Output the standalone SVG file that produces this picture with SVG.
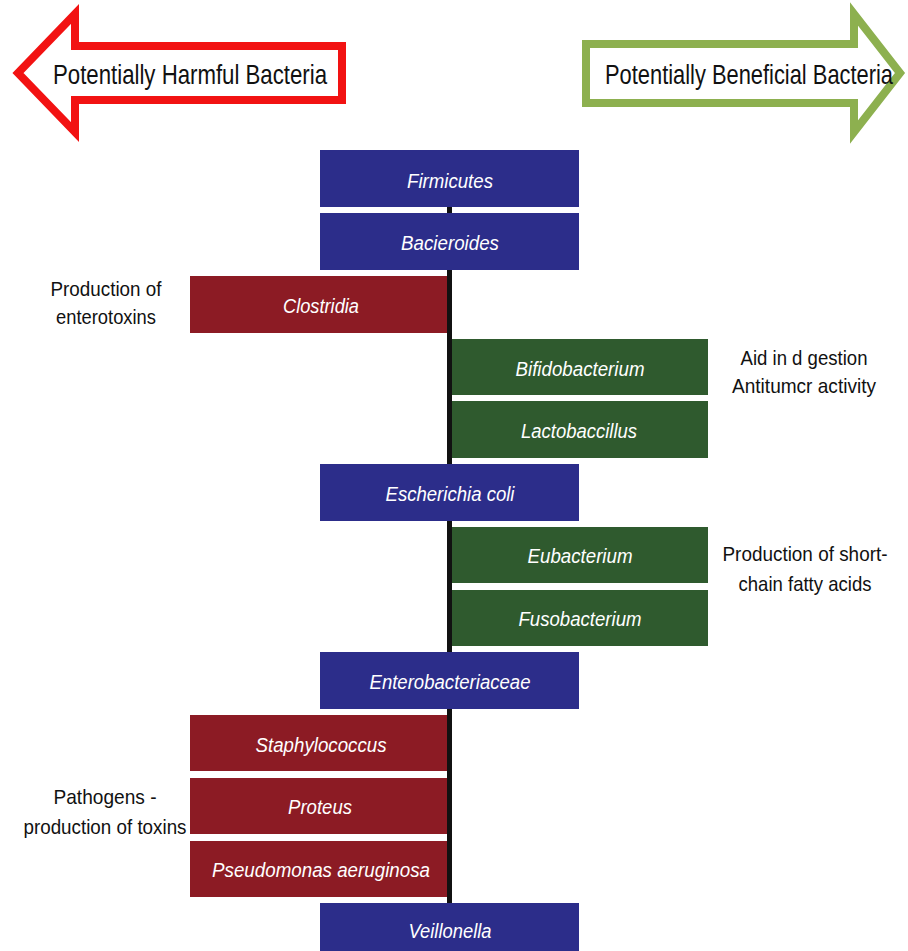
<svg xmlns="http://www.w3.org/2000/svg" width="908" height="951" viewBox="0 0 908 951">
<style>
.blue{fill:#2c2d8a}
.red{fill:#8c1b24}
.green{fill:#2f5a2e}
.bt{font-family:"Liberation Sans",Arial,sans-serif;font-style:italic;font-size:20px;fill:#ffffff;text-anchor:middle}
.lab{font-family:"Liberation Sans",Arial,sans-serif;font-size:21px;fill:#111111;text-anchor:middle}
.arr{font-family:"Liberation Sans",Arial,sans-serif;font-size:22px;fill:#111111}
</style>
<rect width="908" height="951" fill="#ffffff"/>
<g id="harmful-arrow">
<polygon points="18,73 75,14 75,46 342,46 342,100 75,100 75,132" fill="#ffffff" stroke="#f21212" stroke-width="8" stroke-linejoin="miter"/>
<text class="arr" transform="translate(53,84) scale(1,1.22)" x="0" y="0" textLength="274" lengthAdjust="spacingAndGlyphs">Potentially Harmful Bacteria</text>
</g>
<g id="beneficial-arrow">
<polygon points="586,44 854,44 854,14 900,73 854,132 854,103 586,103" fill="#ffffff" stroke="#8db04f" stroke-width="8" stroke-linejoin="miter"/>
<text class="arr" transform="translate(605,84) scale(1,1.22)" x="0" y="0" textLength="288" lengthAdjust="spacingAndGlyphs">Potentially Beneficial Bacteria</text>
</g>
<g id="connectors">
<rect x="447" y="205" width="5" height="700" fill="#111111"/>
</g>
<g id="firmicutes"><rect class="blue" x="320" y="150" width="259" height="57"/><text class="bt" x="450" y="188" textLength="86" lengthAdjust="spacingAndGlyphs">Firmicutes</text></g>
<g id="bacteroides"><rect class="blue" x="320" y="213" width="259" height="57"/><text class="bt" x="450" y="250" textLength="98" lengthAdjust="spacingAndGlyphs">Bacieroides</text></g>
<g id="clostridia"><rect class="red" x="190" y="276" width="257" height="57"/><text class="bt" x="321" y="313" textLength="76" lengthAdjust="spacingAndGlyphs">Clostridia</text></g>
<g id="bifidobacterium"><rect class="green" x="452" y="339" width="256" height="56"/><text class="bt" x="580" y="376" textLength="129" lengthAdjust="spacingAndGlyphs">Bifidobacterium</text></g>
<g id="lactobaccillus"><rect class="green" x="452" y="401" width="256" height="57"/><text class="bt" x="579" y="438" textLength="116" lengthAdjust="spacingAndGlyphs">Lactobaccillus</text></g>
<g id="escherichia"><rect class="blue" x="320" y="464" width="259" height="57"/><text class="bt" x="450" y="501" textLength="129" lengthAdjust="spacingAndGlyphs">Escherichia coli</text></g>
<g id="eubacterium"><rect class="green" x="452" y="527" width="256" height="56"/><text class="bt" x="580" y="563" textLength="105" lengthAdjust="spacingAndGlyphs">Eubacterium</text></g>
<g id="fusobacterium"><rect class="green" x="452" y="590" width="256" height="56"/><text class="bt" x="580" y="626" textLength="123" lengthAdjust="spacingAndGlyphs">Fusobacterium</text></g>
<g id="enterobacteriaceae"><rect class="blue" x="320" y="652" width="259" height="57"/><text class="bt" x="450" y="689" textLength="161" lengthAdjust="spacingAndGlyphs">Enterobacteriaceae</text></g>
<g id="staphylococcus"><rect class="red" x="190" y="715" width="257" height="56"/><text class="bt" x="321" y="752" textLength="131" lengthAdjust="spacingAndGlyphs">Staphylococcus</text></g>
<g id="proteus"><rect class="red" x="190" y="778" width="257" height="56"/><text class="bt" x="320" y="814" textLength="64" lengthAdjust="spacingAndGlyphs">Proteus</text></g>
<g id="pseudomonas"><rect class="red" x="190" y="841" width="257" height="56"/><text class="bt" x="321" y="877" textLength="218" lengthAdjust="spacingAndGlyphs">Pseudomonas aeruginosa</text></g>
<g id="veillonella"><rect class="blue" x="320" y="903" width="259" height="48"/><text class="bt" x="450" y="938" textLength="83" lengthAdjust="spacingAndGlyphs">Veillonella</text></g>
<g id="label-enterotoxins">
<text class="lab" x="106" y="296" textLength="111" lengthAdjust="spacingAndGlyphs">Production of</text>
<text class="lab" x="106" y="324" textLength="100" lengthAdjust="spacingAndGlyphs">enterotoxins</text>
</g>
<g id="label-digestion">
<text class="lab" x="804" y="365" textLength="127" lengthAdjust="spacingAndGlyphs">Aid in d gestion</text>
<text class="lab" x="804" y="393" textLength="144" lengthAdjust="spacingAndGlyphs">Antitumcr activity</text>
</g>
<g id="label-scfa">
<text class="lab" x="805" y="561" textLength="165" lengthAdjust="spacingAndGlyphs">Production of short-</text>
<text class="lab" x="805" y="591" textLength="133" lengthAdjust="spacingAndGlyphs">chain fatty acids</text>
</g>
<g id="label-pathogens">
<text class="lab" x="105" y="804" textLength="103" lengthAdjust="spacingAndGlyphs">Pathogens -</text>
<text class="lab" x="105" y="834" textLength="163" lengthAdjust="spacingAndGlyphs">production of toxins</text>
</g>
</svg>
